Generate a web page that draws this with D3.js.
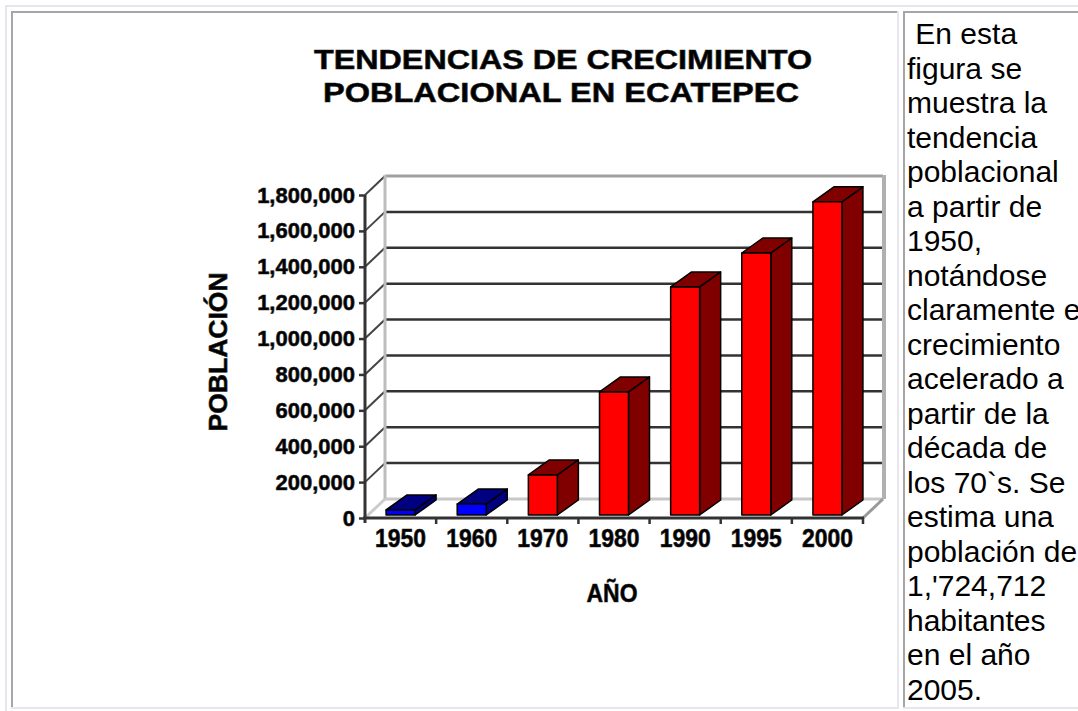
<!DOCTYPE html>
<html><head><meta charset="utf-8">
<script src="https://cdn.jsdelivr.net/npm/d3@7/dist/d3.min.js"></script>
<style>
html,body{margin:0;padding:0;background:#fff;overflow:hidden;}
svg{display:block;}
</style></head>
<body>
<script>
// ---- data ----
const years = ["1950","1960","1970","1980","1990","1995","2000"];
const poblacion = [28000, 61000, 223000, 686000, 1271000, 1460000, 1745000];
const yTicks = [0,200000,400000,600000,800000,1000000,1200000,1400000,1600000,1800000];
const titleLines = ["TENDENCIAS DE CRECIMIENTO","POBLACIONAL EN ECATEPEC"];
const yTitle = "POBLACIÓN";
const xTitle = "AÑO";
const sideText = ["\u00A0En esta","figura se","muestra la","tendencia","poblacional","a partir de","1950,","notándose","claramente el","crecimiento","acelerado a","partir de la","década de","los 70`s. Se","estima una","población de","1,'724,712","habitantes","en el año","2005."];

// ---- layout ----
const W = 1078, H = 711;
const FONT = "'Liberation Sans', Arial, Helvetica, sans-serif";
const svg = d3.select("body").append("svg").attr("width", W).attr("height", H);

// table borders
const light = "#e6e6ec", dark = "#a6a6a6";
svg.append("rect").attr("x",5).attr("y",5).attr("width",W).attr("height",2).attr("fill",light);
svg.append("rect").attr("x",5).attr("y",5).attr("width",2).attr("height",H).attr("fill",light);
// left cell
svg.append("rect").attr("x",11).attr("y",11).attr("width",886).attr("height",2).attr("fill",dark);
svg.append("rect").attr("x",11).attr("y",11).attr("width",2).attr("height",697).attr("fill",dark);
svg.append("rect").attr("x",897).attr("y",11).attr("width",2).attr("height",698).attr("fill",light);
svg.append("rect").attr("x",11).attr("y",707).attr("width",888).attr("height",2).attr("fill",light);
// right cell
svg.append("rect").attr("x",903).attr("y",11).attr("width",W).attr("height",2).attr("fill",dark);
svg.append("rect").attr("x",903).attr("y",11).attr("width",2).attr("height",697).attr("fill",dark);
svg.append("rect").attr("x",903).attr("y",707).attr("width",W).attr("height",2).attr("fill",light);

// side text
const st = svg.append("text").attr("font-family",FONT).attr("font-size",30).attr("fill","#000");
sideText.forEach((t,i)=>{
  st.append("tspan").attr("x",907).attr("y",44 + i*34.5).text(t);
});

// ---- chart ----
const y = d3.scaleLinear().domain([0,1800000]).range([518,195]);
const x = d3.scaleBand().domain(years).range([365,863]);
const DX = 20, DY = -19;      // wall depth
const BDX = 21, BDY = -15;    // bar depth
const barW = 29;
const g = svg.append("g");

// back wall
g.append("rect").attr("x",365+DX).attr("y",y(1800000)+DY)
  .attr("width",x.range()[1]-x.range()[0]).attr("height",y(0)-y(1800000))
  .attr("fill","#fff");
// gridlines on back wall and left wall
yTicks.forEach(v=>{
  if (v===0) return;
  const yy = y(v)+DY;
  g.append("line").attr("x1",365+DX).attr("x2",863+DX).attr("y1",yy).attr("y2",yy)
    .attr("stroke", v===1800000 ? "#a0a0a0" : "#333").attr("stroke-width", v===1800000?3:2.5);
  g.append("line").attr("x1",365).attr("x2",365+DX).attr("y1",y(v)).attr("y2",yy)
    .attr("stroke","#444").attr("stroke-width",2);
});
// back wall left & right edges
g.append("line").attr("x1",365+DX).attr("x2",365+DX).attr("y1",y(1800000)+DY-1).attr("y2",y(0)+DY)
  .attr("stroke","#bdbdbd").attr("stroke-width",3);
g.append("line").attr("x1",863+DX+1).attr("x2",863+DX+1).attr("y1",y(1800000)+DY-1).attr("y2",y(0)+DY)
  .attr("stroke","#b0b0b0").attr("stroke-width",4);
// floor
g.append("line").attr("x1",365+DX).attr("x2",863+DX).attr("y1",y(0)+DY).attr("y2",y(0)+DY)
  .attr("stroke","#c8c8c8").attr("stroke-width",3);
g.append("line").attr("x1",365).attr("x2",365+DX).attr("y1",y(0)).attr("y2",y(0)+DY)
  .attr("stroke","#cccccc").attr("stroke-width",3);
g.append("line").attr("x1",863).attr("x2",863+DX).attr("y1",y(0)).attr("y2",y(0)+DY)
  .attr("stroke","#9a9a9a").attr("stroke-width",3);

// bars
const bars = g.append("g");
years.forEach((yr,i)=>{
  const v = poblacion[i];
  const isEarly = +yr < 1970;
  const front = isEarly ? "#0000ff" : "#ff0000";
  const shade = isEarly ? "#000080" : "#800000";
  const cx = x(yr) + x.bandwidth()/2;
  const x0 = cx - barW/2, x1 = cx + barW/2;
  const yb = y(0) - 3, yt = y(v) - 3;
  const b = bars.append("g").attr("stroke","#000").attr("stroke-width",1.5).attr("stroke-linejoin","round");
  b.append("polygon").attr("points",[[x1,yb],[x1+BDX,yb+BDY],[x1+BDX,yt+BDY],[x1,yt]].join(" ")).attr("fill",shade);
  b.append("polygon").attr("points",[[x0,yt],[x0+BDX,yt+BDY],[x1+BDX,yt+BDY],[x1,yt]].join(" ")).attr("fill",shade);
  b.append("rect").attr("x",x0).attr("y",yt).attr("width",barW).attr("height",yb-yt).attr("fill",front);
});

// x axis front line + boundary ticks
g.append("line").attr("x1",363).attr("x2",864).attr("y1",y(0)).attr("y2",y(0))
  .attr("stroke","#333").attr("stroke-width",3);
years.slice(1).concat([null]).forEach((yr)=>{
  const bx = yr===null ? x.range()[1] : x(yr);
  g.append("line").attr("x1",bx).attr("x2",bx).attr("y1",y(0)).attr("y2",y(0)+6)
    .attr("stroke","#333").attr("stroke-width",2.5);
});

// y axis
const yAxis = d3.axisLeft(y).tickValues(yTicks).tickFormat(d3.format(",")).tickSize(6).tickSizeOuter(0).tickPadding(4);
const ya = g.append("g").attr("transform","translate(365,0)").call(yAxis);
ya.select(".domain").attr("stroke","#333").attr("stroke-width",3).attr("d","M0,195V523");
ya.selectAll(".tick line").attr("stroke","#333").attr("stroke-width",2.5);
ya.selectAll(".tick text").attr("font-family",FONT).attr("font-weight","bold").attr("font-size",22)
  .attr("fill","#000").attr("stroke","#222").attr("stroke-width",0.6);

// x axis labels
const xAxis = d3.axisBottom(x).tickSize(0).tickPadding(11);
const xa = g.append("g").attr("transform",`translate(0,${y(0)})`).call(xAxis);
xa.select(".domain").remove();
xa.selectAll(".tick text").attr("font-family",FONT).attr("font-weight","bold").attr("font-size",25)
  .attr("fill","#000").attr("stroke","#222").attr("stroke-width",0.6)
  .attr("textLength",51).attr("lengthAdjust","spacingAndGlyphs");

// titles
const tt = g.append("g").attr("font-family",FONT).attr("font-weight","bold").attr("fill","#000")
  .attr("stroke","#222").attr("stroke-width",0.6).attr("text-anchor","middle");
tt.append("text").attr("x",563).attr("y",69).attr("font-size",28)
  .attr("textLength",498).attr("lengthAdjust","spacingAndGlyphs").text(titleLines[0]);
tt.append("text").attr("x",561).attr("y",102).attr("font-size",28)
  .attr("textLength",476).attr("lengthAdjust","spacingAndGlyphs").text(titleLines[1]);
tt.append("text").attr("transform","translate(227,352) rotate(-90)").attr("font-size",25)
  .attr("textLength",159).attr("lengthAdjust","spacingAndGlyphs").text(yTitle);
tt.append("text").attr("x",612).attr("y",602).attr("font-size",26)
  .attr("textLength",51).attr("lengthAdjust","spacingAndGlyphs").text(xTitle);
</script>
</body></html>
